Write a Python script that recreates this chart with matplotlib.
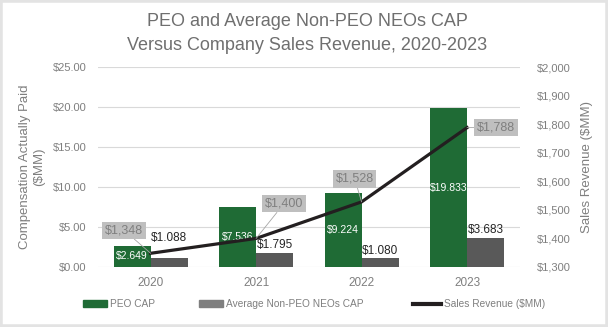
import matplotlib
matplotlib.use('Agg')
import matplotlib.pyplot as plt
from matplotlib.patches import Rectangle, Patch
import numpy as np

plt.rcParams['font.family'] = ['Liberation Sans', 'DejaVu Sans']

years = ['2020', '2021', '2022', '2023']
peo_cap = [2.649, 7.536, 9.224, 19.833]
neo_cap = [1.088, 1.795, 1.080, 3.683]
sales = [1348, 1400, 1528, 1788]
legend_names = ['PEO CAP', 'Average Non-PEO NEOs CAP', 'Sales Revenue ($MM)']

# label offsets (points) for the sales boxes and NEO labels
sales_off = [(-19, 16.5), (20, 25), (-5, 16.5), (21, 0)]
neo_off = [10, 1, 1, 1]

green = '#1F6B35'
dgray = '#595959'
lgray = '#7F7F7F'

fig = plt.figure(figsize=(6.08, 3.27), dpi=100)
ax = fig.add_axes([0.161, 0.1835, 0.694, 0.6115])
ax2 = ax.twinx()

x = np.arange(len(years))
w = 0.35
ax.bar(x - w / 2, peo_cap, w, color=green, zorder=2)
ax.bar(x + w / 2, neo_cap, w, color=dgray, zorder=2)

ax.set_xlim(-0.5, 3.5)
ax.set_ylim(0, 25)
ax.set_yticks(np.arange(0, 26, 5))
ax.set_yticklabels(['$%.2f' % v for v in np.arange(0, 26, 5)])
ax.set_xticks(x)
ax.set_xticklabels(years)
ax.grid(axis='y', color='#D9D9D9', lw=0.8, zorder=0)
ax.set_axisbelow(True)
ax.tick_params(length=0, labelsize=8, labelcolor=lgray, pad=8)
ax.tick_params(axis='x', labelsize=8.5, pad=7)
ax.set_ylabel('Compensation Actually Paid\n($MM)', fontsize=9.5, color=lgray, labelpad=6)

for i in range(len(years)):
    ax.text(x[i] - w / 2, peo_cap[i] / 2, '$%.3f' % peo_cap[i], color='white',
            ha='center', va='center', fontsize=7.5, zorder=4)
    ax.annotate('$%.3f' % neo_cap[i], (x[i] + w / 2, neo_cap[i]),
                xytext=(0, neo_off[i]), textcoords='offset points',
                ha='center', va='bottom', fontsize=8.5, color='#262626', zorder=4)

ax2.plot(x, sales, color='#231F20', lw=2.3, zorder=3)
ax2.set_ylim(1300, 2000)
ax2.set_yticks(np.arange(1300, 2001, 100))
ax2.set_yticklabels(['${:,}'.format(v) for v in range(1300, 2001, 100)])
ax2.tick_params(length=0, labelsize=8, labelcolor=lgray, pad=12)
ax2.set_ylabel('Sales Revenue ($MM)', fontsize=9.5, color=lgray, labelpad=8)

for i in range(len(years)):
    ax2.annotate('${:,}'.format(sales[i]), (x[i], sales[i]),
                 xytext=sales_off[i], textcoords='offset points',
                 ha='center', va='center', fontsize=9, color=lgray,
                 bbox=dict(boxstyle='square,pad=0.22', fc='#BFBFBF', ec='none'),
                 arrowprops=dict(arrowstyle='-', color='#A6A6A6', lw=0.6,
                                 shrinkA=0, shrinkB=0),
                 zorder=5)

for a in (ax, ax2):
    for s in a.spines.values():
        s.set_visible(False)

ax.set_zorder(0)
ax2.set_zorder(1)
ax2.patch.set_visible(False)

fig.text(0.505, 0.935, 'PEO and Average Non-PEO NEOs CAP', ha='center', va='center',
         fontsize=13, color='#6F6F6F')
fig.text(0.505, 0.861, 'Versus Company Sales Revenue, 2020-2023', ha='center', va='center',
         fontsize=13, color='#6F6F6F')

# legend: three separate entries so each sits where it does in the original
handles = [Patch(color=green), Patch(color=lgray),
           plt.Line2D([], [], color='#231F20', lw=3)]
leg_x = [83 / 608, 199 / 608, 413 / 608]
leg_len = [2.4, 2.4, 2.8]
for h, name, lx, hl in zip(handles, legend_names, leg_x, leg_len):
    leg = fig.legend([h], [name], loc='center left', bbox_to_anchor=(lx, 0.07),
                     frameon=False, borderpad=0, borderaxespad=0,
                     handlelength=hl, handleheight=0.6, handletextpad=0.3,
                     prop={'size': 7.3})
    for t in leg.get_texts():
        t.set_color(lgray)

fig.patches.append(Rectangle((0, 0), 1, 1, transform=fig.transFigure, fill=False,
                             ec='#E3E3E3', lw=4, zorder=10))

fig.savefig('out.png', dpi=100)
